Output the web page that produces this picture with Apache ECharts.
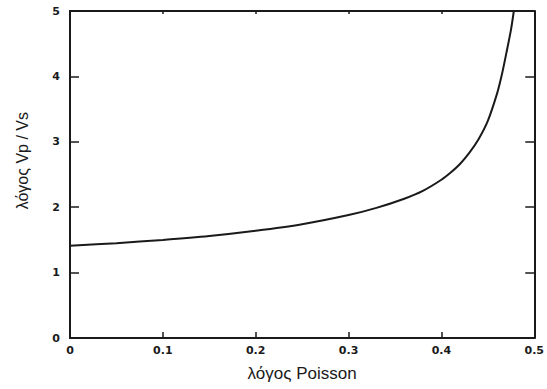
<!DOCTYPE html>
<html>
<head>
<meta charset="utf-8">
<script src="https://cdn.jsdelivr.net/npm/echarts@6/dist/echarts.min.js"></script>
<style>
  html, body { margin: 0; padding: 0; background: #fff; }
  #chart { width: 547px; height: 389px; }
</style>
</head>
<body>
<div id="chart"></div>
<script>
// Poisson ratio vs Vp/Vs
var poisson = [0, 0.05, 0.1, 0.15, 0.2, 0.25, 0.3, 0.33, 0.36, 0.38, 0.4, 0.41, 0.42, 0.43, 0.44, 0.45, 0.46, 0.465, 0.47, 0.475, 0.478];
var vpvs = [1.41, 1.45, 1.50, 1.56, 1.64, 1.74, 1.88, 1.99, 2.13, 2.25, 2.42, 2.53, 2.66, 2.83, 3.04, 3.32, 3.74, 4.02, 4.36, 4.72, 5.0];
var xTicks = [0, 0.1, 0.2, 0.3, 0.4, 0.5];
var yTicks = [0, 1, 2, 3, 4, 5];

var ink = '#1a1a1a';
var chart = echarts.init(document.getElementById('chart'), null, { renderer: 'svg' });

var points = [];
for (var i = 0; i < poisson.length; i++) { points.push([poisson[i], vpvs[i]]); }

var axisFont = { color: ink, fontSize: 11, fontWeight: 'bold', fontFamily: 'DejaVu Sans' };
var frameLine = { show: true, onZero: false, lineStyle: { color: ink, width: 2 } };

chart.setOption({
  animation: false,
  grid: { left: 70, right: 8, top: 11, bottom: 51 },
  xAxis: [
    {
      type: 'value', min: xTicks[0], max: xTicks[xTicks.length - 1], interval: 0.1,
      name: 'λόγος Poisson', nameLocation: 'middle', nameGap: 27,
      nameTextStyle: { color: ink, fontSize: 17, fontFamily: 'Liberation Sans' },
      axisLine: frameLine,
      axisTick: { inside: true, length: 6, lineStyle: { color: ink, width: 1.5 } },
      axisLabel: Object.assign({ margin: 7, formatter: function(v) { return v === 0 ? '0' : v.toFixed(1); } }, axisFont),
      splitLine: { show: false }
    },
    {
      type: 'value', position: 'top', min: 0, max: 0.5, interval: 0.1,
      axisLine: frameLine,
      axisTick: { inside: true, length: 3, lineStyle: { color: ink, width: 1.5 } },
      axisLabel: { show: false },
      splitLine: { show: false }
    }
  ],
  yAxis: [
    {
      type: 'value', min: yTicks[0], max: yTicks[yTicks.length - 1], interval: 1,
      axisLine: frameLine,
      axisTick: { show: true, inside: true, length: 9, lineStyle: { color: ink, width: 1.5 } },
      axisLabel: Object.assign({ margin: 10 }, axisFont),
      splitLine: { show: false }
    },
    {
      type: 'value', position: 'right', min: 0, max: 5, interval: 1,
      axisLine: frameLine,
      axisTick: { show: true, inside: true, length: 9, lineStyle: { color: ink, width: 1.5 } },
      axisLabel: { show: false },
      splitLine: { show: false }
    }
  ],
  graphic: [{
    type: 'text',
    left: 14,
    top: 112,
    rotation: Math.PI / 2,
    originX: 0, originY: 0,
    style: {
      text: 'λόγος Vp / Vs',
      fill: ink,
      font: '16px "Liberation Sans"'
    }
  }],
  series: [{
    type: 'line',
    data: points,
    smooth: 0.3,
    symbol: 'none',
    lineStyle: { color: ink, width: 2 }
  }]
});
</script>
</body>
</html>
